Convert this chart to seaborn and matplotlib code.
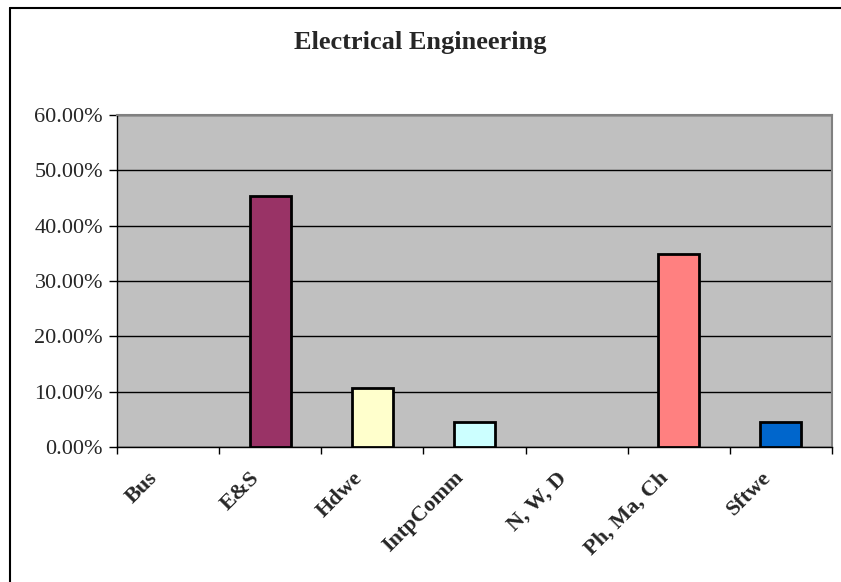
import matplotlib
matplotlib.use("Agg")
import matplotlib.pyplot as plt
from matplotlib.lines import Line2D
import seaborn as sns
import pandas as pd
from matplotlib.ticker import FuncFormatter, FixedLocator

categories = ["Bus", "E&S", "Hdwe", "IntpComm", "N, W, D", "Ph, Ma, Ch", "Sftwe"]
values = [0.0, 45.45, 10.61, 4.55, 0.0, 34.85, 4.55]
colors = ["#9999FF", "#993366", "#FFFFCC", "#CCFFFF", "#660066", "#FF8080", "#0066CC"]
title = "Electrical Engineering"

sns.set_style("white")
plt.rcParams['font.family'] = ['Liberation Serif', 'DejaVu Serif']

df = pd.DataFrame({"cat": categories, "val": values})

W, H = 841, 582
fig = plt.figure(figsize=(W/100, H/100), dpi=100)
ax = fig.add_axes([117/W, 1-447/H, (832-117)/W, (447-115)/H])
ax.set_facecolor("#C0C0C0")

sns.barplot(data=df, x="cat", y="val", hue="cat", palette=colors, legend=False,
            width=0.4, edgecolor="black", linewidth=2, saturation=1, ax=ax, zorder=3)
for p in ax.patches:
    if p.get_height() == 0:
        p.set_visible(False)

ax.set_ylim(0, 60)
ax.set_xlim(-0.5, len(categories) - 0.5)
ax.yaxis.set_major_locator(FixedLocator([0, 10, 20, 30, 40, 50, 60]))
ax.yaxis.set_major_formatter(FuncFormatter(lambda v, p: f"{v:.2f}%"))
ax.grid(axis="y", color="black", linewidth=1, zorder=1)
ax.set_axisbelow(True)

# boundary ticks; labels placed slightly left of each category centre (Excel style)
label_shift = 0.2
ax.set_xticks([i - 0.5 for i in range(len(categories) + 1)], minor=False)
ax.set_xticklabels([])
ax.set_xticks([i - label_shift for i in range(len(categories))], minor=True)
ax.set_xticklabels(categories, minor=True, rotation=45, ha="right", va="top",
                   rotation_mode="anchor", fontsize=16, fontweight="bold")
ax.tick_params(axis="x", which="minor", length=0, pad=15)
ax.tick_params(axis="x", which="major", length=5, width=1, color="black", direction="out")
ax.tick_params(axis="y", length=6, width=1, color="black", direction="out", labelsize=16, pad=4)
ax.tick_params(bottom=True, left=True)

ax.set_xlabel("")
ax.set_ylabel("")

for s in ["top", "right"]:
    ax.spines[s].set_color("#808080")
    ax.spines[s].set_linewidth(1.5)
for s in ["left", "bottom"]:
    ax.spines[s].set_color("black")
    ax.spines[s].set_linewidth(1)

fig.text(0.5, 1 - 43/H, title, ha="center", va="center", fontsize=19, fontweight="bold")

fig.lines.append(Line2D([9.5/W, 1], [1 - 7.5/H, 1 - 7.5/H], transform=fig.transFigure,
                        color="black", linewidth=1.5))
fig.lines.append(Line2D([9.5/W, 9.5/W], [0, 1 - 7.5/H], transform=fig.transFigure,
                        color="black", linewidth=1.5))

fig.savefig("out.png", dpi=100)
